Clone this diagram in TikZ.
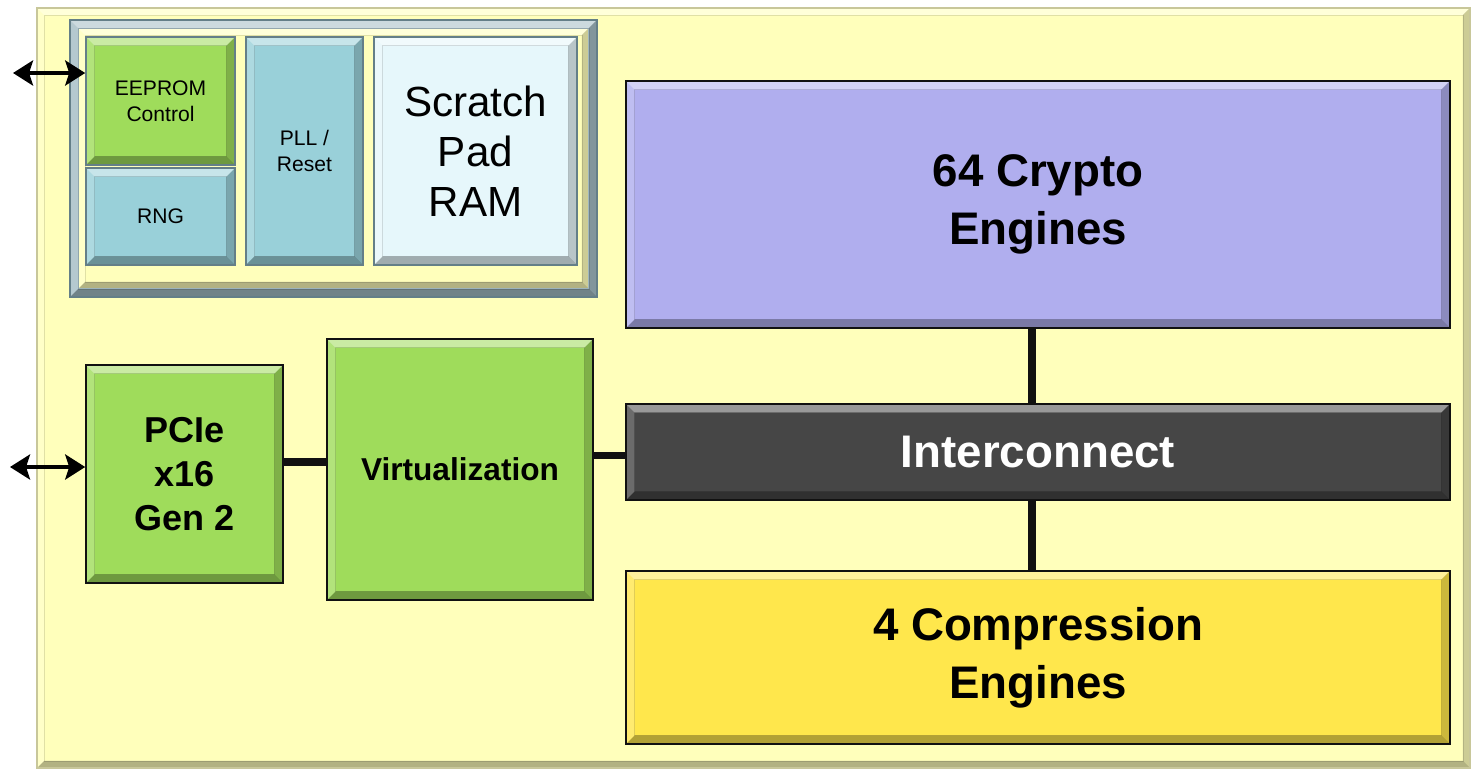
\documentclass[tikz,border=0pt]{standalone}
\usepackage{fontspec}
\setmainfont{Liberation Sans}
\usetikzlibrary{arrows.meta}
\definecolor{chChip}{HTML}{FFFFBB}
\definecolor{chChipEdge}{HTML}{C8C79A}
\definecolor{chFrame}{HTML}{A3BCC4}
\definecolor{chFrameEdge}{HTML}{647F88}
\definecolor{chGreen}{HTML}{9FDC5B}
\definecolor{chTeal}{HTML}{99D0D9}
\definecolor{chScratch}{HTML}{E6F7FB}
\definecolor{chCrypto}{HTML}{B0AEEE}
\definecolor{chBus}{HTML}{464646}
\definecolor{chComp}{HTML}{FFE74C}
\definecolor{chInk}{HTML}{111111}
\tikzset{
  bevel/.style={path picture={
    \path (path picture bounding box.south west) coordinate (pp sw)
          (path picture bounding box.north east) coordinate (pp ne);
    \fill[white, opacity=.45] (pp sw |- pp ne) -- (pp ne)
      -- ([shift={(-#1,-#1)}]pp ne) -- ([shift={(#1,-#1)}]pp sw |- pp ne) -- cycle;
    \fill[white, opacity=.2] (pp sw) -- (pp sw |- pp ne)
      -- ([shift={(#1,-#1)}]pp sw |- pp ne) -- ([shift={(#1,#1)}]pp sw) -- cycle;
    \fill[black, opacity=.3] (pp sw) -- (pp sw -| pp ne)
      -- ([shift={(-#1,#1)}]pp sw -| pp ne) -- ([shift={(#1,#1)}]pp sw) -- cycle;
    \fill[black, opacity=.2] (pp sw -| pp ne) -- (pp ne)
      -- ([shift={(-#1,-#1)}]pp ne) -- ([shift={(-#1,#1)}]pp sw -| pp ne) -- cycle;
    \draw[black, opacity=.12, line width=.3pt]
      ([shift={(#1,#1)}]pp sw) rectangle ([shift={(-#1,-#1)}]pp ne);
  }},
  bevel/.default=1.7mm,
  blk/.style={rectangle, inner sep=0pt, align=center, text=black,
    draw=chInk, line width=.9pt, bevel},
  green blk/.style={blk, fill=chGreen},
  teal blk/.style={blk, fill=chTeal, draw=chFrameEdge},
  big label/.style={font=\fontsize{26}{33}\selectfont\bfseries},
  small label/.style={font=\fontsize{12}{14.7}\selectfont},
  link/.style={draw=chInk, line width=4.5pt},
  port/.style={draw=black, line width=2.2pt,
    {Stealth[length=4mm,width=5mm,inset=.8mm]}-{Stealth[length=4mm,width=5mm,inset=.8mm]}}
}
\begin{document}
\begin{tikzpicture}[x=.02cm,y=-.02cm]
  \useasboundingbox[fill=white] (0,0) rectangle (1476,771);

  % chip outline
  \node[rectangle, inner sep=0pt, fill=chChip, draw=chChipEdge, line width=.8pt,
    bevel=1.4mm, minimum width=28.66cm, minimum height=15.2cm] (chip) at (753.5,388) {};

  % misc block group
  \node[rectangle, inner sep=0pt, fill=chFrame, draw=chFrameEdge, line width=.8pt,
    bevel=1.6mm, minimum width=10.54cm, minimum height=5.54cm] (grp) at (333.5,158.5) {};
  \node[rectangle, inner sep=0pt, fill=chChip, bevel=1.2mm,
    minimum width=10.18cm, minimum height=5.18cm] (grpin) at (333.5,158.5) {};

  \node[green blk, small label, draw=chFrameEdge, minimum width=2.98cm, minimum height=2.56cm]
    (eeprom) at (160.5,101) {EEPROM\\Control};
  \node[teal blk, small label, minimum width=2.98cm, minimum height=1.94cm]
    (rng) at (160.5,216.5) {RNG};
  \node[teal blk, small label, minimum width=2.34cm, minimum height=4.56cm]
    (pll) at (304.5,151) {PLL /\\Reset};
  \node[teal blk, fill=chScratch, font=\fontsize{24}{28.4}\selectfont,
    minimum width=4.06cm, minimum height=4.56cm] (ram) at (475.5,151) {Scratch\\Pad\\RAM};

  % host side
  \node[green blk, font=\fontsize{20.5}{25}\selectfont\bfseries,
    minimum width=3.94cm, minimum height=4.36cm] (pcie) at (184.5,474) {PCIe\\x16\\Gen 2};
  \node[green blk, font=\fontsize{18}{22}\selectfont\bfseries,
    minimum width=5.32cm, minimum height=5.22cm] (virt) at (460,469.5) {Virtualization};

  % engines
  \node[blk, big label, fill=chCrypto, minimum width=16.48cm, minimum height=4.94cm]
    (crypto) at (1038,204.5) {64 Crypto\\Engines};
  \node[blk, big label, fill=chBus, text=white, minimum width=16.48cm, minimum height=1.92cm]
    (bus) at (1038,452) {Interconnect};
  \node[blk, big label, fill=chComp, minimum width=16.48cm, minimum height=3.46cm]
    (comp) at (1038,657.5) {4 Compression\\Engines};

  \draw[link] ([xshift=-1.2mm]crypto.south) -- ([xshift=-1.2mm]bus.north);
  \draw[link] ([xshift=-1.2mm]bus.south) -- ([xshift=-1.2mm]comp.north);
  \draw[link] ([yshift=2.4mm]pcie.east) -- ([yshift=2.4mm]pcie.east -| virt.west);
  \draw[link] ([yshift=-.7mm]bus.west -| virt.east) -- ([yshift=-.7mm]bus.west);

  % off-chip ports
  \coordinate (eeprom port) at (13,73);
  \coordinate (host port) at (10,467);
  \draw[port] (eeprom port) -- (eeprom port -| eeprom.west);
  \draw[port] (host port) -- (host port -| pcie.west);
\end{tikzpicture}
\end{document}
